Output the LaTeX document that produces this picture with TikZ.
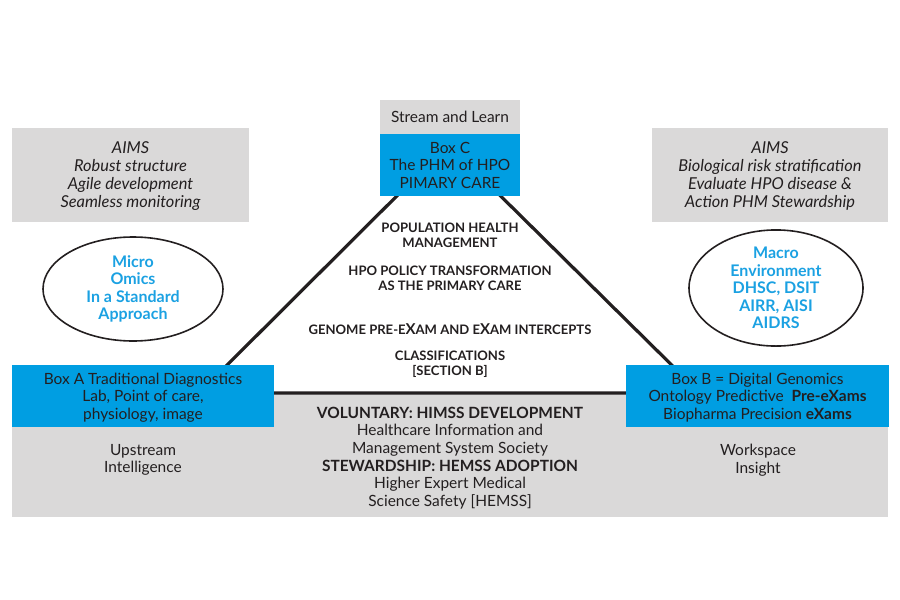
\documentclass[tikz,border=0pt]{standalone}
\usepackage{fontspec}
\setmainfont{Lato}
\usetikzlibrary{shapes.geometric}

\definecolor{boxblue}{RGB}{0,158,226}
\definecolor{panelgray}{RGB}{218,217,217}
\definecolor{inkblack}{RGB}{35,31,32}
\definecolor{ovalblue}{RGB}{27,161,226}

\begin{document}
\begin{tikzpicture}[x=0.75pt,y=-0.75pt]
    \tikzset{
        plain/.style={font=\fontsize{11.6}{13.2}\selectfont, text=inkblack, align=center},
        bluebox/.style={plain, fill=boxblue, inner sep=0pt, text depth=0pt},
        graybox/.style={plain, fill=panelgray, inner sep=0pt, text depth=0pt},
        aims/.style={graybox, font=\fontsize{12.3}{13.5}\selectfont\itshape},
        oval/.style={ellipse, draw=inkblack, line width=1.2pt, inner sep=0pt,
            text=ovalblue, align=center, font=\fontsize{12}{13.2}\selectfont\bfseries},
        tritext/.style={font=\fontsize{9.8}{11}\selectfont\bfseries, text=inkblack, align=center},
        side/.style={line width=2.4pt, draw=inkblack},
    }
    \useasboundingbox (0,0) rectangle (900,600);

    % Bottom band
    \fill[panelgray] (12,393) rectangle (888,517);

    % Triangle
    \coordinate (apex) at (448.5,144.5);
    \coordinate (baseL) at (199,393);
    \coordinate (baseR) at (700,393);
    \draw[side] (apex) -- (baseL) -- (baseR) -- cycle;

    % Top box
    \node[graybox, minimum width=105pt, minimum height=25.5pt] (stream) at (450,117) {Stream and Learn};
    \node[bluebox, minimum width=105pt, minimum height=46.5pt] (boxC) at (450,165)
        {Box C\\The PHM of HPO\\PIMARY CARE};

    % Aims boxes
    \node[aims, minimum width=177.75pt, minimum height=70.5pt] (aimsL) at (130.5,175)
        {AIMS\\Robust structure\\Agile development\\Seamless monitoring};
    \node[aims, minimum width=177pt, minimum height=70.5pt] (aimsR) at (770,175)
        {AIMS\\Biological risk stratification\\Evaluate HPO disease \&\\Action PHM Stewardship};

    % Ovals
    \node[oval, minimum width=135pt, minimum height=78pt] (micro) at (133,289)
        {Micro\\Omics\\In a Standard\\Approach};
    \node[oval, minimum width=130.5pt, minimum height=81pt] (macro) at (776,288)
        {Macro\\Environment\\DHSC, DSIT\\AIRR, AISI\\AIDRS};

    % Inside the triangle
    \node[tritext] (phm) at (450,235) {POPULATION HEALTH\\MANAGEMENT};
    \node[tritext] (policy) at (450,278.5) {HPO POLICY TRANSFORMATION\\AS THE PRIMARY CARE};
    \node[tritext] (genome) at (450,329)
        {GENOME PRE-E{\fontsize{11.2}{11}\selectfont X}AM AND E{\fontsize{11.2}{11}\selectfont X}AM INTERCEPTS};
    \node[tritext] (classes) at (450,364.5) {CLASSIFICATIONS\\{[SECTION B]}};

    % Base boxes
    \node[bluebox, minimum width=196.5pt, minimum height=46.5pt] (boxA) at (143,396)
        {Box A Traditional Diagnostics\\Lab, Point of care,\\physiology, image};
    \node[bluebox, minimum width=197.25pt, minimum height=46.5pt] (boxB) at (757.5,396)
        {Box B = Digital Genomics\\Ontology Predictive\ \ \textbf{Pre-eXams}\\Biopharma Precision \textbf{eXams}};
    \node[plain] (upstream) at (143,460) {Upstream\\Intelligence};
    \node[plain] (workspace) at (758,460) {Workspace\\Insight};
    \node[plain] (himss) at (450,458)
        {\textbf{VOLUNTARY: HIMSS DEVELOPMENT}\\Healthcare Information and\\Management System Society\\
         \textbf{STEWARDSHIP: HEMSS ADOPTION}\\Higher Expert Medical\\Science Safety [HEMSS]};
\end{tikzpicture}
\end{document}
